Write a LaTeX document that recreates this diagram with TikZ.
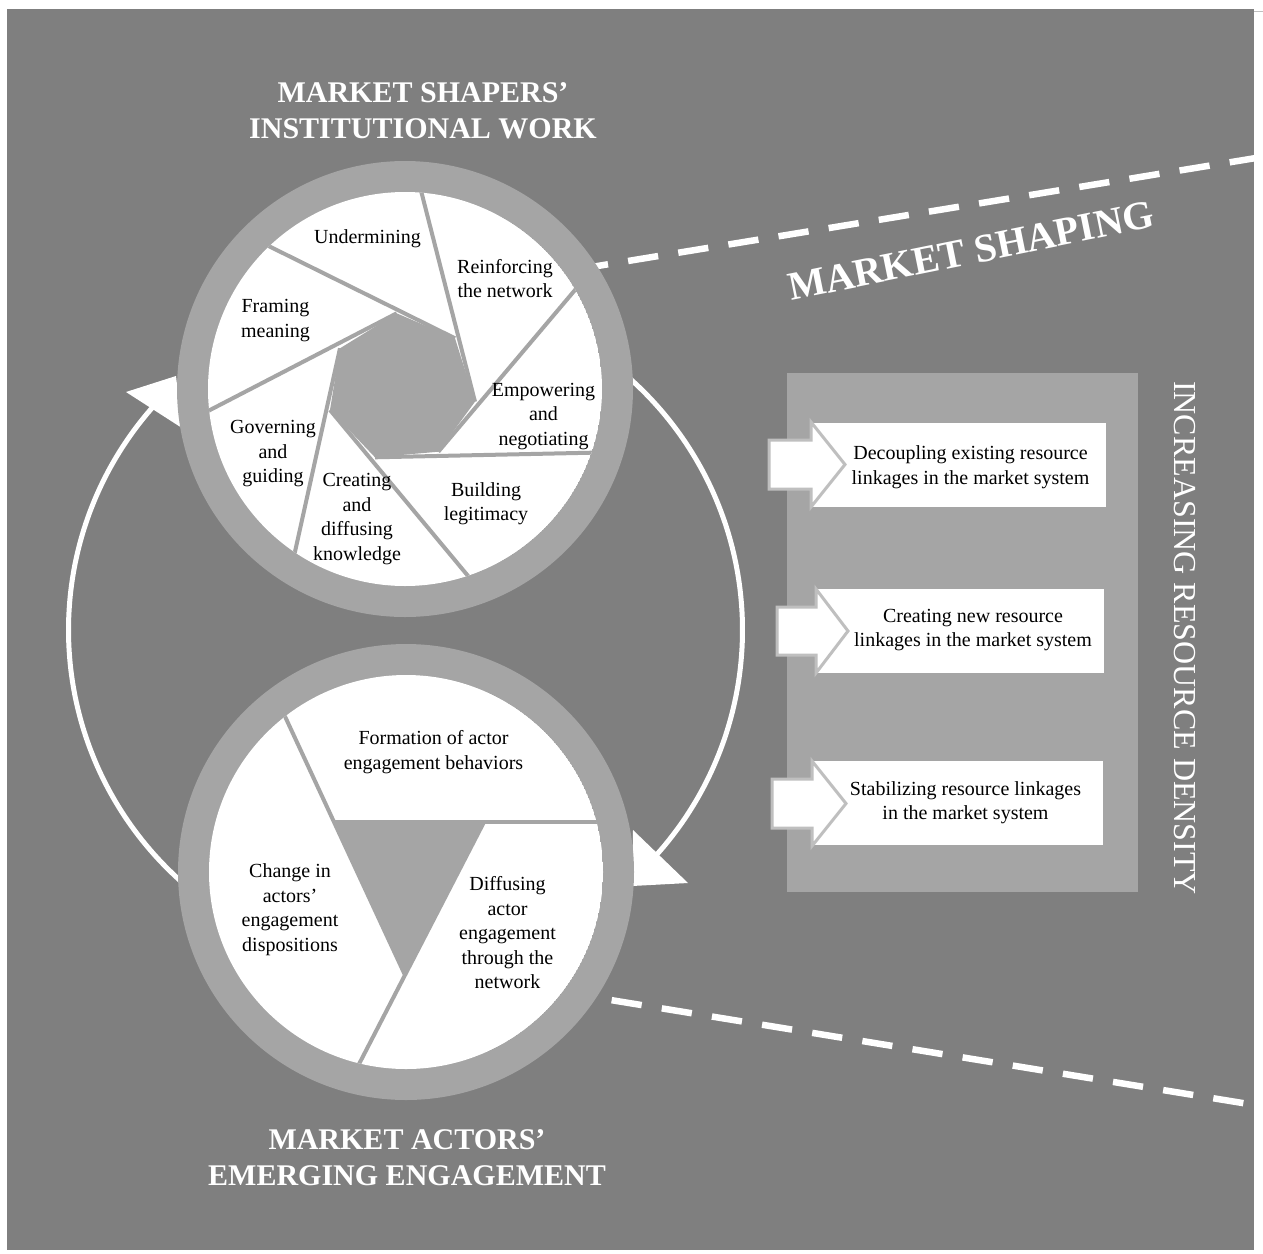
\documentclass[tikz,border=0pt]{standalone}
\usepackage{fontspec}
\setmainfont{Liberation Serif}
\usetikzlibrary{calc}
\definecolor{bggray}{HTML}{7F7F7F}
\definecolor{ringgray}{HTML}{A5A5A5}
\definecolor{outlinegray}{HTML}{BFBFBF}
\tikzset{
  lbl/.style={align=center, font=\fontsize{20}{24.5}\selectfont, text=black, inner sep=0pt},
  ttl/.style={align=center, font=\bfseries\fontsize{30}{36}\selectfont, text=white, inner sep=0pt},
  sepline/.style={draw=ringgray, line width=4pt},
  cyclearc/.style={draw=white, line width=5pt},
  headtri/.style={fill=white},
  dashline/.style={draw=white, line width=6.5pt, dash pattern=on 30.4pt off 20.4pt},
  wbox/.style={fill=white},
  blockarrow/.style={fill=white, draw=outlinegray, line width=3pt, line join=miter},
}
\begin{document}
\begin{tikzpicture}[x=1pt,y=-1pt]
\useasboundingbox (0,0) rectangle (1263,1253);
\fill[white] (0,0) rectangle (1263,1253);
\fill[bggray] (7,9) rectangle (1254,1250);
\draw[outlinegray, line width=1pt] (1254,11.5) -- (1263,11.5);

% cycle arrow
\draw[cyclearc] plot[smooth, domain=120:222, samples=80] ({405.5+337*cos(\x)},{630+337*sin(\x)});
\draw[cyclearc] plot[smooth, domain=-55:42.5, samples=80] ({405.5+337*cos(\x)},{630+337*sin(\x)});
\coordinate (ha1) at (126,392); \coordinate (ha2) at (182,428); \coordinate (ha3) at (176,376);
\fill[headtri] (ha1) -- (ha3) -- (ha2) -- cycle;
\coordinate (hb1) at (633,830); \coordinate (hb2) at (688,883); \coordinate (hb3) at (632,886);
\fill[headtri] (hb1) -- (hb2) -- (hb3) -- cycle;

% dashed lines
\coordinate (d1s) at (578,269.2); \coordinate (d1e) at (1256,158);
\draw[dashline] (d1s) -- (d1e);
\coordinate (d2s) at (561.5,992); \coordinate (d2e) at (1256,1105.2);
\draw[dashline] (d2s) -- (d2e);

% top circle
\coordinate (c1) at (405,389);
\fill[ringgray] (c1) circle[radius=228pt];
\begin{scope}
\clip (c1) circle[radius=197pt];
\fill[white] (c1) circle[radius=197pt];
\coordinate (H1) at (455,338.3);
\coordinate (H2) at (475,401.7);
\coordinate (H3) at (438.3,451.7);
\coordinate (H4) at (375,457.3);
\coordinate (H5) at (330,410);
\coordinate (H6) at (340,348.3);
\coordinate (H7) at (396.7,313.3);
\coordinate (Pa) at (420,186.7);
\coordinate (Pb) at (575,290);
\coordinate (Pc) at (591.7,452.7);
\coordinate (Pd) at (470,578.3);
\coordinate (Pe) at (295,551.7);
\coordinate (Pf) at (213.3,408.3);
\coordinate (Pg) at (270,246.7);
\fill[ringgray] (H1) -- (H2) -- (H3) -- (H4) -- (H5) -- (H6) -- (H7) -- cycle;
\draw[sepline] (H2) -- ($(H2)!1.3!(Pa)$);
\draw[sepline] (H3) -- ($(H3)!1.3!(Pb)$);
\draw[sepline] (H4) -- ($(H4)!1.3!(Pc)$);
\draw[sepline] (H5) -- ($(H5)!1.3!(Pd)$);
\draw[sepline] (H6) -- ($(H6)!1.3!(Pe)$);
\draw[sepline] (H7) -- ($(H7)!1.3!(Pf)$);
\draw[sepline] (H1) -- ($(H1)!1.3!(Pg)$);
\end{scope}

% bottom circle
\coordinate (c2) at (406,872);
\fill[ringgray] (c2) circle[radius=228pt];
\begin{scope}
\clip (c2) circle[radius=197pt];
\fill[white] (c2) circle[radius=197pt];
\coordinate (T1) at (334,822); \coordinate (T2) at (484,822); \coordinate (T3) at (405,975);
\fill[ringgray] (T1) -- (T2) -- (T3) -- cycle;
\draw[sepline] (T3) -- ($(T3)!3!(T1)$);
\draw[sepline] (T1) -- ($(T1)!3!(T2)$);
\draw[sepline] (T2) -- ($(T2)!3!(T3)$);
\end{scope}

% right panel
\fill[ringgray] (787,373) rectangle (1138,892);
\fill[wbox] (811,423) rectangle (1106,507);
\fill[wbox] (815,589) rectangle (1104,673);
\fill[wbox] (811,761) rectangle (1103,845);
\draw[blockarrow] (769,440) -- (811,440) -- (811,422) -- (845,464.5) -- (811,507) -- (811,489) -- (769,489) -- cycle;
\draw[blockarrow] (777,607) -- (816,607) -- (816,589) -- (848,631) -- (816,673) -- (816,655) -- (777,655) -- cycle;
\draw[blockarrow] (772,779) -- (812,779) -- (812,761) -- (846,803.5) -- (812,846) -- (812,828) -- (772,828) -- cycle;

% titles
\node[ttl] (tt1) at (423,111) {MARKET SHAPERS’\\INSTITUTIONAL WORK};
\node[ttl] (tt2) at (407,1158) {MARKET ACTORS’\\EMERGING ENGAGEMENT};
\node[font=\bfseries\fontsize{40}{48}\selectfont, text=white, rotate=11.5, inner sep=0pt] (ms) at (971,251) {MARKET SHAPING};
\node[font=\fontsize{32}{38}\selectfont, text=white, rotate=-90, inner sep=0pt] (ird) at (1185,638) {INCREASING RESOURCE DENSITY};

% top circle labels
\node[lbl] (l1) at (367.5,239) {\strut Undermining\strut};
\node[lbl] (l2) at (505,280.5) {\strut Reinforcing\\the network\strut};
\node[lbl] (l3) at (543.5,416) {\strut Empowering\\and\\negotiating\strut};
\node[lbl] (l4) at (486,503.5) {\strut Building\\legitimacy\strut};
\node[lbl] (l5) at (357,518.5) {\strut Creating\\and\\diffusing\\knowledge\strut};
\node[lbl] (l6) at (273,453.5) {\strut Governing\\and\\guiding\strut};
\node[lbl] (l7) at (275.5,320) {\strut Framing\\meaning\strut};

% bottom circle labels
\node[lbl] (m1) at (433.5,752) {\strut Formation of actor\\engagement behaviors\strut};
\node[lbl] (m2) at (290,909.5) {\strut Change in\\actors’\\engagement\\dispositions\strut};
\node[lbl] (m3) at (507.5,935) {\strut Diffusing\\actor\\engagement\\through the\\network\strut};

% box labels
\node[lbl] (b1) at (970.5,467) {\strut Decoupling existing resource\\linkages in the market system\strut};
\node[lbl] (b2) at (973,629.5) {\strut Creating new resource\\linkages in the market system\strut};
\node[lbl] (b3) at (965.5,802.5) {\strut Stabilizing resource linkages\\in the market system\strut};
\end{tikzpicture}
\end{document}
